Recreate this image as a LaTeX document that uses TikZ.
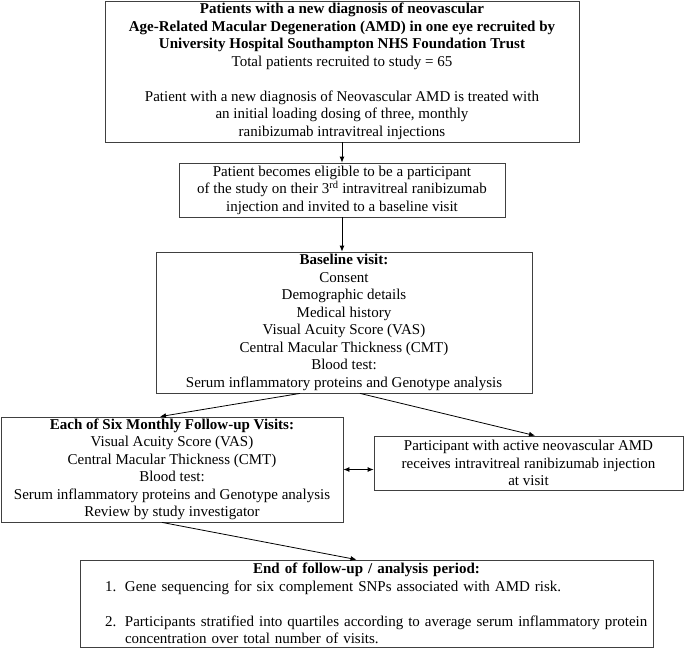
\documentclass[tikz,border=0pt]{standalone}
\usepackage{fontspec}
\setmainfont{Liberation Serif}
\usetikzlibrary{arrows.meta}
\begin{document}
\begin{tikzpicture}[x=1pt,y=-1pt,
  box/.style={draw=black!75, line width=0.8pt, inner sep=0pt, align=center,
    font=\fontsize{15}{17.5}\selectfont},
  arr/.style={-{Latex[length=6pt,width=5pt]}, line width=0.8pt},
  dblarr/.style={{Latex[length=6pt,width=5pt]}-{Latex[length=6pt,width=5pt]}, line width=0.8pt}]
\useasboundingbox (0,0) rectangle (685,648);

\node[box, minimum width=474pt, minimum height=141pt] (b1) at (342,71.5)
  {\textbf{Patients with a new diagnosis of neovascular}\\
   \textbf{Age-Related Macular Degeneration (AMD) in one eye recruited by}\\
   \textbf{University Hospital Southampton NHS Foundation Trust}\\
   Total patients recruited to study = 65\\[17.5pt]
   Patient with a new diagnosis of Neovascular AMD is treated with\\
   an initial loading dosing of three, monthly\\
   ranibizumab intravitreal injections};

\node[box, minimum width=326pt, minimum height=54pt] (b2) at (342,190)
  {Patient becomes eligible to be a participant\\
   of the study on their 3\textsuperscript{rd} intravitreal ranibizumab\\
   injection and invited to a baseline visit};

\node[box, minimum width=376pt, minimum height=141pt] (b3) at (344,322.5)
  {\textbf{Baseline visit:}\\
   Consent\\
   Demographic details\\
   Medical history\\
   Visual Acuity Score (VAS)\\
   Central Macular Thickness (CMT)\\
   Blood test:\\
   Serum inflammatory proteins and Genotype analysis};

\node[box, minimum width=342pt, minimum height=105pt] (b4) at (172,469.5)
  {\textbf{Each of Six Monthly Follow-up Visits:}\\
   Visual Acuity Score (VAS)\\
   Central Macular Thickness (CMT)\\
   Blood test:\\
   Serum inflammatory proteins and Genotype analysis\\
   Review by study investigator};

\node[box, minimum width=309pt, minimum height=54pt] (b5) at (528.5,463)
  {Participant with active neovascular AMD\\
   receives intravitreal ranibizumab injection\\
   at visit};

\node[box, align=left, text width=573pt, minimum height=87pt] (b6) at (366.5,603.5)
  {\makebox[573pt]{\bfseries End of follow-up / analysis period:}\\
   \mbox{\hspace*{25pt}\makebox[20pt][l]{1.}Gene sequencing for six complement SNPs associated with AMD risk.}\\[17.5pt]
   \mbox{\hspace*{25pt}\makebox[20pt][l]{2.}Participants stratified into quartiles according to average serum inflammatory protein}\\
   \mbox{\hspace*{45pt}concentration over total number of visits.}};

\draw[arr] (b1.south) -- (b2.north);
\draw[arr] (b2.south) -- (b2.south |- b3.north);
\draw[arr] ([xshift=-44pt]b3.south) -- ([xshift=-12pt]b4.north);
\draw[arr] ([xshift=16pt]b3.south) -- ([xshift=6.5pt]b5.north);
\draw[dblarr] (b4.east) -- (b4.east -| b5.west);
\draw[arr] ([xshift=-10pt]b4.south) -- ([xshift=-10pt]b6.north);
\end{tikzpicture}
\end{document}
